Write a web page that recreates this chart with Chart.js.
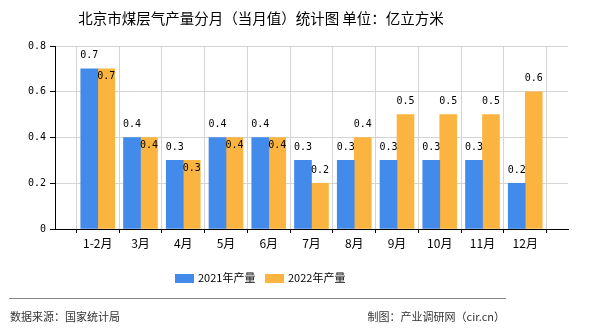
<!DOCTYPE html>
<html>
<head>
<meta charset="utf-8">
<script src="https://cdn.jsdelivr.net/npm/chart.js@4"></script>
<style>
    html, body { margin: 0; padding: 0; background: #fff; }
    canvas { display: block; }
</style>
</head>
<body>
<canvas id="gasChart" width="590" height="330"></canvas>
<script>
const months = ['1-2月', '3月', '4月', '5月', '6月', '7月', '8月', '9月', '10月', '11月', '12月'];
const output2021 = [0.7, 0.4, 0.3, 0.4, 0.4, 0.3, 0.3, 0.3, 0.3, 0.3, 0.2];
const output2022 = [0.7, 0.4, 0.3, 0.4, 0.4, 0.2, 0.4, 0.5, 0.5, 0.5, 0.6];
const seriesNames = ['2021年产量', '2022年产量'];
const yTicks = [0, 0.2, 0.4, 0.6, 0.8];

const titleText = '北京市煤层气产量分月（当月值）统计图 单位：亿立方米';
const sourceText = '数据来源：国家统计局';
const creditText = '制图：产业调研网（cir.cn）';

const BLUE = '#428BEB';
const ORANGE = '#FCB441';
const MONO = '"DejaVu Sans Mono", monospace';
const CJK = '"Noto Sans CJK SC", "Noto Sans", sans-serif';

// empty slot at each end so the categories sit between the axis edges
const labels = ['', ...months, ''];
const pad = arr => [null, ...arr, null];

const valueLabels = {
    id: 'valueLabels',
    afterDatasetsDraw(chart) {
        const ctx = chart.ctx;
        ctx.save();
        ctx.font = '10px ' + MONO;
        ctx.fillStyle = '#000';
        ctx.textAlign = 'center';
        ctx.textBaseline = 'middle';
        chart.data.datasets.forEach((ds, di) => {
            chart.getDatasetMeta(di).data.forEach((bar, i) => {
                const v = ds.data[i];
                if (v == null) return;
                let y = bar.y - 13;
                // second series label drops into the bar when both are equal
                if (di === 1 && chart.data.datasets[0].data[i] === v) y = bar.y + 8;
                ctx.fillText(v.toFixed(1), bar.x, y);
            });
        });
        ctx.restore();
    }
};

const frame = {
    id: 'frame',
    afterDraw(chart) {
        const ctx = chart.ctx;
        ctx.save();
        ctx.fillStyle = '#000';
        ctx.textBaseline = 'middle';
        ctx.textAlign = 'center';
        ctx.font = '14.5px ' + CJK;
        ctx.fillText(titleText, 261, 18);

        // legend
        ctx.font = '11px ' + CJK;
        ctx.textAlign = 'left';
        const legendX = [175, 265];
        chart.data.datasets.forEach((ds, i) => {
            ctx.fillStyle = ds.backgroundColor;
            ctx.fillRect(legendX[i], 274, 19, 9);
            ctx.fillStyle = '#000';
            ctx.fillText(ds.label, legendX[i] + 23, 278);
        });

        // separator and footer
        ctx.strokeStyle = '#888';
        ctx.lineWidth = 1;
        ctx.beginPath();
        ctx.moveTo(9, 298.5);
        ctx.lineTo(506, 298.5);
        ctx.stroke();

        ctx.fillStyle = '#333';
        ctx.font = '11px ' + CJK;
        ctx.fillText(sourceText, 10, 317);
        ctx.textAlign = 'right';
        ctx.fillText(creditText, 505, 317);
        ctx.restore();
    }
};

new Chart(document.getElementById('gasChart'), {
    type: 'bar',
    data: {
        labels: labels,
        datasets: [
            { label: seriesNames[0], data: pad(output2021), backgroundColor: BLUE, barThickness: 17 },
            { label: seriesNames[1], data: pad(output2022), backgroundColor: ORANGE, barThickness: 17 }
        ]
    },
    options: {
        responsive: false,
        animation: false,
        devicePixelRatio: 1,
        layout: { padding: { left: 0, top: 46, right: 22, bottom: 71 } },
        plugins: {
            legend: { display: false },
            tooltip: { enabled: false }
        },
        scales: {
            x: {
                offset: false,
                grid: { color: '#d4d4d4', tickColor: '#000', tickLength: 4 },
                border: { color: '#000' },
                ticks: { color: '#000', font: { size: 12, family: CJK }, padding: 3, autoSkip: false, maxRotation: 0 },
                afterFit: scale => { scale.height = 30; }
            },
            y: {
                min: yTicks[0],
                max: yTicks[yTicks.length - 1],
                grid: { color: '#d4d4d4', tickColor: '#000', tickLength: 5 },
                border: { color: '#000' },
                ticks: {
                    stepSize: 0.2,
                    color: '#000',
                    padding: 4,
                    font: { size: 10, family: MONO },
                    callback: v => (v === 0 ? '0' : v.toFixed(1))
                },
                afterFit: scale => { scale.width = 55; }
            }
        }
    },
    plugins: [valueLabels, frame]
});
</script>
</body>
</html>
